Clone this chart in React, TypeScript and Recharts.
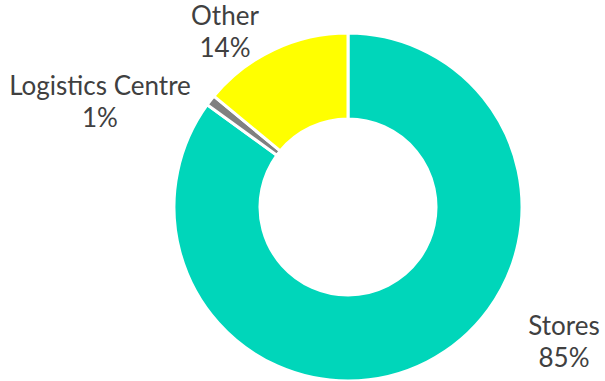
import { PieChart, Pie, Cell } from 'recharts'

const categories = ['Stores', 'Logistics Centre', 'Other']
const shares = [85, 1, 14]
const colors = ['#00D6BA', '#808080', '#FFFF00']

// label anchor (text centre x, first baseline y) relative to pie centre
const labelPos: Record<string, [number, number]> = {
  'Stores': [216, 128],
  'Logistics Centre': [-248, -112],
  'Other': [-123, -182]
}

const chartData = categories.map((name, i) => ({ name, value: shares[i] }))

const renderLabel = (props: any) => {
  const { cx, cy, name, percent } = props
  const [dx, dy] = labelPos[name] || [0, 0]
  const x = Number(cx) + dx
  const y = Number(cy) + dy
  return (
    <text x={x} y={y} textAnchor="middle" fill="#404040" fontSize={26} fontFamily="Lato">
      <tspan x={x} y={y}>{name}</tspan>
      <tspan x={x} y={y + 32}>{`${Math.round(percent * 100)}%`}</tspan>
    </text>
  )
}

export default function App() {
  return (
    <div style={{ position: 'absolute', left: 0, top: 0, width: 605, height: 381, background: '#fff' }}>
      <PieChart width={605} height={381} margin={{ top: 0, right: 0, bottom: 0, left: 0 }}>
        <Pie
          data={chartData}
          dataKey="value"
          nameKey="name"
          cx={348}
          cy={207}
          innerRadius={88}
          outerRadius={174}
          startAngle={90}
          endAngle={-270}
          stroke="#ffffff"
          strokeWidth={3}
          labelLine={false}
          label={renderLabel}
          isAnimationActive={false}
        >
          {chartData.map((entry, index) => (
            <Cell key={`cell-${index}`} fill={colors[index]} />
          ))}
        </Pie>
      </PieChart>
    </div>
  )
}
